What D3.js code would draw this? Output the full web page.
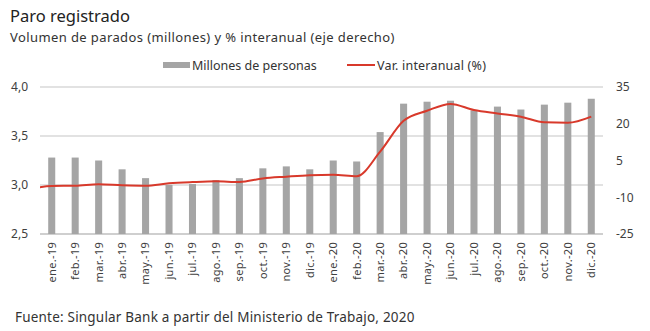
<!DOCTYPE html>
<html>
<head>
<meta charset="utf-8">
<script src="https://cdn.jsdelivr.net/npm/d3@7"></script>
<style>
  body { margin: 0; background: #fff; }
  svg text { font-family: "Noto Sans", "Open Sans", sans-serif; }
</style>
</head>
<body>
<div id="chart"></div>
<script>
const months = ["ene.-19","feb.-19","mar.-19","abr.-19","may.-19","jun.-19","jul.-19","ago.-19","sep.-19","oct.-19","nov.-19","dic.-19",
                "ene.-20","feb.-20","mar.-20","abr.-20","may.-20","jun.-20","jul.-20","ago.-20","sep.-20","oct.-20","nov.-20","dic.-20"];
const parados = [3.28, 3.28, 3.25, 3.16, 3.07, 3.00, 3.01, 3.05, 3.07, 3.17, 3.19, 3.16,
                 3.25, 3.24, 3.54, 3.83, 3.85, 3.86, 3.76, 3.80, 3.77, 3.82, 3.84, 3.88];
const varInteranual = [-5.4, -5.3, -4.7, -5.1, -5.3, -4.3, -3.8, -3.5, -3.8, -2.3, -1.6, -1.0,
                       -0.8, -1.4, 8.6, 21.2, 25.3, 28.1, 25.6, 24.2, 22.9, 20.6, 20.4, 22.9];
const varPrev = -6.8; // dic.-18, only the tail shows at the left edge
const leftTicks = [2.5, 3.0, 3.5, 4.0];
const rightTicks = [-25, -10, 5, 20, 35];

const width = 650, height = 331;
const margin = { top: 87, right: 47, bottom: 97, left: 40 };

const svg = d3.select("#chart").append("svg")
  .attr("width", width)
  .attr("height", height);

const x = d3.scaleBand()
  .domain(months)
  .range([margin.left, width - margin.right])
  .paddingInner(0.7)
  .paddingOuter(0.35);

const xc = d => x(d) + x.bandwidth() / 2;
const step = x.step();

const yL = d3.scaleLinear().domain([2.5, 4.0]).range([height - margin.bottom, margin.top]);
const yR = d3.scaleLinear().domain([-25, 35]).range([height - margin.bottom, margin.top]);

// title
svg.append("text").attr("x", 10).attr("y", 22)
  .style("font-size", "16.5px").attr("fill", "#222").text("Paro registrado");
svg.append("text").attr("x", 10).attr("y", 42)
  .style("font-size", "13px").style("letter-spacing", "0.4px").attr("fill", "#333")
  .text("Volumen de parados (millones) y % interanual (eje derecho)");

// gridlines
svg.append("g").selectAll("line").data(leftTicks).join("line")
  .attr("x1", margin.left).attr("x2", width - margin.right)
  .attr("y1", d => yL(d)).attr("y2", d => yL(d))
  .attr("stroke", d => d === 2.5 ? "#bfbfbf" : "#d9d9d9")
  .attr("stroke-width", 1.3);

// bars
svg.append("g").selectAll("rect").data(parados).join("rect")
  .attr("x", (d, i) => x(months[i]))
  .attr("width", x.bandwidth())
  .attr("y", d => yL(d))
  .attr("height", d => yL(2.5) - yL(d))
  .attr("fill", "#a5a5a5");

// line (clipped to plot area)
svg.append("clipPath").attr("id", "clip")
  .append("rect")
  .attr("x", margin.left).attr("y", 0)
  .attr("width", width - margin.left - margin.right).attr("height", height);

const linePts = [[xc(months[0]) - step, varPrev]]
  .concat(varInteranual.map((v, i) => [xc(months[i]), v]));

const line = d3.line()
  .x(d => d[0])
  .y(d => yR(d[1]))
  .curve(d3.curveMonotoneX);

svg.append("path")
  .datum(linePts)
  .attr("clip-path", "url(#clip)")
  .attr("fill", "none")
  .attr("stroke", "#d8392b")
  .attr("stroke-width", 2)
  .attr("d", line);

// left axis
const axL = svg.append("g")
  .attr("transform", `translate(${margin.left},0)`)
  .call(d3.axisLeft(yL).tickValues(leftTicks).tickSize(0).tickPadding(12)
    .tickFormat(d => d3.format(".1f")(d).replace(".", ",")));
axL.select(".domain").remove();
axL.selectAll("text").style("font-size", "12px").attr("fill", "#404040");

// right axis
const axR = svg.append("g")
  .attr("transform", `translate(${width - margin.right},0)`)
  .call(d3.axisRight(yR).tickValues(rightTicks).tickSize(0).tickPadding(13)
    .tickFormat(d => d < 0 ? "-" + Math.abs(d) : d));
axR.select(".domain").remove();
axR.selectAll("text").style("font-size", "12px").attr("fill", "#404040");

// x axis labels
const axX = svg.append("g")
  .attr("transform", `translate(0,${height - margin.bottom})`)
  .call(d3.axisBottom(x).tickSize(0).tickPadding(0));
axX.select(".domain").remove();
axX.selectAll("text")
  .style("font-size", "11px")
  .style("letter-spacing", "0.3px")
  .attr("fill", "#404040")
  .attr("text-anchor", "end")
  .attr("dy", "0.35em")
  .attr("transform", "translate(0,8) rotate(-90)")
  .attr("x", 0).attr("y", 0);

// legend
const lg = svg.append("g");
lg.append("rect").attr("x", 163).attr("y", 62).attr("width", 27).attr("height", 6).attr("fill", "#a5a5a5");
lg.append("text").attr("x", 192).attr("y", 69.5).style("font-size", "12.5px").attr("fill", "#333")
  .text("Millones de personas");
lg.append("line").attr("x1", 347).attr("x2", 375).attr("y1", 65).attr("y2", 65)
  .attr("stroke", "#d8392b").attr("stroke-width", 2);
lg.append("text").attr("x", 377).attr("y", 69.5).style("font-size", "12.5px").style("letter-spacing", "0.2px").attr("fill", "#333")
  .text("Var. interanual (%)");

// source
svg.append("text").attr("x", 15).attr("y", 322)
  .style("font-size", "13.5px").style("letter-spacing", "0.2px").attr("fill", "#333")
  .text("Fuente: Singular Bank a partir del Ministerio de Trabajo, 2020");
</script>
</body>
</html>
